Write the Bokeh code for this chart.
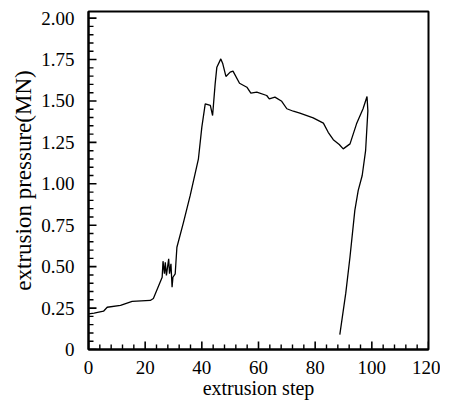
from bokeh.plotting import figure
from bokeh.models import Range1d, FixedTicker
from bokeh.embed import file_html
from bokeh.resources import INLINE

# data
step = [0.0, 2.0, 5.3, 6.6, 11.3, 15.4, 21.8, 22.9, 26.0,
        26.3, 26.8, 27.1, 27.5, 28.3, 28.6, 29.1, 29.5, 29.8, 30.6, 31.2,
        33.5, 35.9, 38.8, 40.0, 41.2, 43.0, 43.8, 44.7, 45.3, 46.7, 47.4,
        48.5, 50.0, 51.0, 53.3, 55.9, 57.3, 59.4, 62.9, 63.8, 65.8, 68.2,
        70.0, 72.3, 74.6, 79.3, 82.9, 84.6, 86.4, 88.5, 89.9, 92.3, 94.6,
        96.9, 98.3, 98.6, 97.8, 96.6, 95.2, 94.0, 92.3, 90.8, 88.7]
pressure = [0.215, 0.22, 0.231, 0.255, 0.266, 0.29, 0.296, 0.308, 0.436,
            0.533, 0.457, 0.527, 0.447, 0.547, 0.457, 0.517, 0.376, 0.436, 0.457, 0.617,
            0.766, 0.93, 1.151, 1.342, 1.483, 1.473, 1.412, 1.603, 1.704, 1.754, 1.724,
            1.648, 1.674, 1.680, 1.607, 1.583, 1.547, 1.553, 1.533, 1.513, 1.523, 1.498,
            1.453, 1.438, 1.426, 1.398, 1.366, 1.311, 1.266, 1.237, 1.211, 1.241, 1.362,
            1.453, 1.527, 1.44, 1.20, 1.05, 0.96, 0.84, 0.56, 0.34, 0.09]

x_ticks = [0, 20, 40, 60, 80, 100, 120]
x_minor = [v for v in range(0, 121, 4)]
y_ticks = [0, 0.25, 0.5, 0.75, 1.0, 1.25, 1.5, 1.75, 2.0]
y_labels = ["0", "0.25", "0.50", "0.75", "1.00", "1.25", "1.50", "1.75", "2.00"]
y_minor = [round(i * 0.05, 2) for i in range(0, 41)]

FONT = "Liberation Serif"
X0, X1 = 0, 120
Y0, Y1 = 0, 2.04
W, H = 440, 405
BL, BR, BT, BB = 88, 12, 11, 56

p = figure(width=W, height=H, output_backend="svg", toolbar_location=None,
           x_range=Range1d(X0, X1), y_range=Range1d(Y0, Y1),
           min_border_left=BL, min_border_right=BR, min_border_top=BT, min_border_bottom=BB)
p.background_fill_color = "white"
p.border_fill_color = "white"
p.outline_line_color = "black"
p.outline_line_width = 2
p.grid.visible = False

p.line(step, pressure, line_color="black", line_width=1.3)

# inward tick marks, drawn from the tick lists (lengths in pixels converted to data units)
px_x = (X1 - X0) / (W - BL - BR)
px_y = (Y1 - Y0) / (H - BT - BB)
MAJ, MIN = 8, 5
ymin_only = [t for t in y_minor if t not in y_ticks]
xmin_only = [t for t in x_minor if t not in x_ticks]
yt_x0 = [X0 for _ in y_ticks]
yt_x1 = [X0 + MAJ * px_x for _ in y_ticks]
ym_x0 = [X0 for _ in ymin_only]
ym_x1 = [X0 + MIN * px_x for _ in ymin_only]
xt_y0 = [Y0 for _ in x_ticks]
xt_y1 = [Y0 + MAJ * px_y for _ in x_ticks]
xm_y0 = [Y0 for _ in xmin_only]
xm_y1 = [Y0 + MIN * px_y for _ in xmin_only]
p.segment(yt_x0, y_ticks, yt_x1, y_ticks, line_color="black", line_width=1.6)
p.segment(ym_x0, ymin_only, ym_x1, ymin_only, line_color="black", line_width=1.4)
p.segment(x_ticks, xt_y0, x_ticks, xt_y1, line_color="black", line_width=1.6)
p.segment(xmin_only, xm_y0, xmin_only, xm_y1, line_color="black", line_width=1.4)

p.xaxis.ticker = FixedTicker(ticks=x_ticks, minor_ticks=[])
p.yaxis.ticker = FixedTicker(ticks=y_ticks, minor_ticks=[])
p.yaxis.major_label_overrides = {t: l for t, l in zip(y_ticks, y_labels)}

for ax in (p.xaxis[0], p.yaxis[0]):
    ax.axis_line_width = 2
    ax.axis_line_color = "black"
    ax.major_tick_in = 0
    ax.major_tick_out = 0
    ax.minor_tick_in = 0
    ax.minor_tick_out = 0
    ax.major_label_text_font = FONT
    ax.major_label_text_font_size = "19px"
    ax.major_label_text_color = "black"
    ax.axis_label_text_font = FONT
    ax.axis_label_text_font_style = "normal"
    ax.axis_label_text_color = "black"

p.xaxis.axis_label = "extrusion step"
p.xaxis.axis_label_text_font_size = "20px"
p.xaxis.major_label_standoff = 11
p.xaxis.axis_label_standoff = 0
p.yaxis.axis_label = "extrusion pressure(MN)"
p.yaxis.axis_label_text_font_size = "23px"
p.yaxis.major_label_standoff = 14
p.yaxis.axis_label_standoff = 2

open("out.html", "w").write(file_html(p, INLINE))
